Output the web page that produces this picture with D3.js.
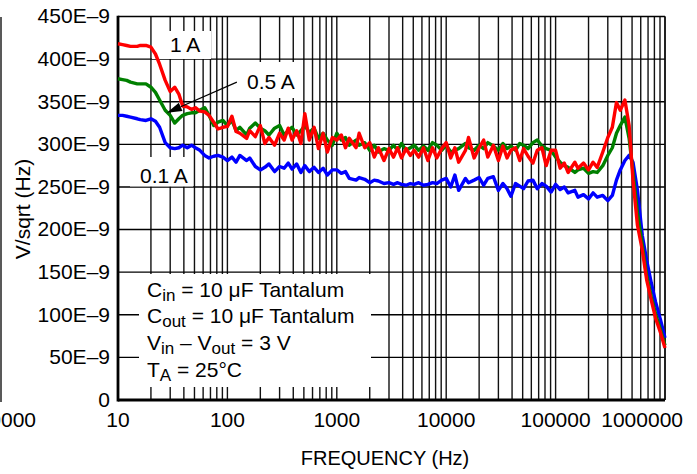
<!DOCTYPE html>
<html lang="en">
<head>
<meta charset="utf-8">
<title>Output noise density vs frequency</title>
<script src="https://cdnjs.cloudflare.com/ajax/libs/d3/7.8.5/d3.min.js"></script>
<style>
body { margin: 0; background: #fff; }
text { font-family: "Liberation Sans", Arial, Helvetica, sans-serif; fill: #000; }
</style>
</head>
<body>
<script>
// frequencies (Hz) the curves were read at
var freq = [
  10, 11, 12, 13, 15, 16, 18, 20, 22, 24, 27, 30, 33, 36, 39, 43, 47, 51, 56, 62, 68, 75, 82, 91,
  100, 110, 120, 130, 150, 160, 180, 200, 220, 240, 270, 300, 330, 360, 390, 430, 470, 510, 560, 620, 680, 750, 820, 910,
  1000, 1100, 1200, 1300, 1500, 1600, 1800, 2000, 2200, 2400, 2700, 3000, 3300, 3600, 3900, 4300, 4700, 5100, 5600, 6200, 6800, 7500, 8200, 9100,
  10000, 11000, 12000, 13000, 15000, 16000, 18000, 20000, 22000, 24000, 27000, 30000, 33000, 36000, 39000, 43000, 47000, 51000, 56000, 62000, 68000, 75000, 82000, 91000,
  100000, 110000, 120000, 130000, 150000, 160000, 180000, 200000, 220000, 240000, 270000, 300000, 330000, 360000, 390000, 430000, 470000, 510000, 560000, 620000, 680000, 750000, 820000, 910000,
  1000000
];

// noise in units of 1E-9 V/sqrt(Hz)
var noise1A = [
  418, 417, 416, 415, 415, 416, 416, 414, 406, 394, 375, 362, 367, 359, 345, 344, 341, 343, 339, 338, 334, 326, 318, 320,
  321, 333, 315, 313, 307, 316, 309, 322, 301, 308, 299, 313, 305, 319, 305, 316, 301, 336, 305, 320, 295, 313, 291, 308,
  305, 311, 296, 307, 296, 313, 296, 302, 285, 296, 281, 295, 285, 296, 284, 295, 287, 293, 285, 296, 281, 296, 284, 295,
  302, 284, 296, 279, 293, 308, 284, 296, 305, 285, 299, 281, 298, 284, 293, 296, 281, 295, 286, 278, 293, 296, 275, 293,
  293, 272, 278, 267, 279, 272, 278, 270, 279, 273, 291, 308, 320, 349, 340, 352, 322, 258, 205, 176, 141, 117, 96, 79,
  61
];
var noise05A = [
  377, 376, 375, 373, 371, 371, 371, 367, 361, 352, 340, 334, 325, 330, 334, 336, 337, 337, 340, 343, 334, 322, 326, 328,
  322, 328, 316, 320, 311, 319, 325, 319, 316, 311, 319, 322, 311, 316, 320, 311, 316, 322, 314, 319, 307, 313, 305, 299,
  313, 305, 308, 299, 305, 299, 302, 293, 299, 291, 295, 293, 299, 293, 301, 293, 296, 299, 293, 298, 293, 302, 299, 293,
  299, 291, 293, 295, 301, 296, 293, 299, 295, 302, 298, 293, 301, 295, 298, 293, 301, 299, 295, 302, 305, 298, 295, 293,
  285, 279, 275, 273, 267, 270, 272, 266, 268, 267, 275, 287, 296, 313, 322, 332, 307, 267, 220, 182, 146, 121, 101, 82,
  64
];
var noise01A = [
  334, 334, 333, 332, 330, 329, 328, 330, 327, 320, 302, 296, 295, 296, 299, 296, 299, 296, 293, 287, 284, 286, 287, 285,
  281, 285, 279, 287, 281, 284, 274, 270, 273, 277, 268, 274, 272, 278, 271, 277, 267, 275, 268, 273, 267, 272, 264, 270,
  270, 266, 268, 260, 258, 261, 259, 255, 258, 257, 254, 255, 253, 255, 253, 252, 254, 253, 255, 252, 253, 255, 254, 258,
  260, 250, 264, 246, 260, 255, 258, 261, 252, 260, 262, 246, 254, 248, 239, 254, 251, 248, 257, 258, 248, 254, 251, 244,
  253, 247, 250, 243, 246, 238, 241, 236, 243, 238, 240, 234, 240, 258, 270, 281, 287, 279, 246, 193, 164, 137, 115, 94,
  73
];

var yTicks = [0, 50, 100, 150, 200, 250, 300, 350, 400, 450];
var yTickLabels = ["0", "50E\u20139", "100E\u20139", "150E\u20139", "200E\u20139", "250E\u20139",
                   "300E\u20139", "350E\u20139", "400E\u20139", "450E\u20139"];
var xTicks = [10, 100, 1000, 10000, 100000, 1000000];
var xTickLabels = ["10", "100", "1000", "10000", "100000", "1000000"];

var w = 697, h = 474;
var pL = 118, pR = 665, pT = 16.5, pB = 400;

var svg = d3.select("body").append("svg")
  .attr("width", w).attr("height", h);

var x = d3.scaleLog().domain([10, 1000000]).range([pL, pR]);
var y = d3.scaleLinear().domain([0, 450]).range([pB, pT]);

// grid, log minor lines
svg.append("g").selectAll("line")
  .data(x.ticks())
  .enter().append("line")
  .attr("x1", function(d) { return x(d); })
  .attr("x2", function(d) { return x(d); })
  .attr("y1", pT).attr("y2", pB)
  .attr("stroke", "#111").attr("stroke-width", 1.4);

svg.append("g").selectAll("line")
  .data(yTicks)
  .enter().append("line")
  .attr("x1", pL).attr("x2", pR)
  .attr("y1", function(d) { return y(d); })
  .attr("y2", function(d) { return y(d); })
  .attr("stroke", "#000").attr("stroke-width", 1.4);

// white boxes behind the notes
function box(x0, y0, x1, y1) {
  svg.append("rect").attr("x", x0).attr("y", y0)
    .attr("width", x1 - x0).attr("height", y1 - y0).attr("fill", "#fff");
}
box(139, 274, 371, 387);
box(152, 31, 211, 59);
box(237, 62, 301, 98);
box(130, 157, 193, 186.5);

// frame
svg.append("line").attr("x1", pR).attr("x2", pR).attr("y1", pT).attr("y2", pB)
  .attr("stroke", "#111").attr("stroke-width", 1.5);
svg.append("line").attr("x1", pL).attr("x2", pL).attr("y1", pT - 0.7).attr("y2", pB + 1.5)
  .attr("stroke", "#000").attr("stroke-width", 2.8);
svg.append("line").attr("x1", pL).attr("x2", pR).attr("y1", pB).attr("y2", pB)
  .attr("stroke", "#000").attr("stroke-width", 2.8);

// curves
var line = d3.line()
  .x(function(d) { return x(d[0]); })
  .y(function(d) { return y(d[1]); });

var series = [
  { vals: noise01A, color: "#0000ff" },
  { vals: noise05A, color: "#008000" },
  { vals: noise1A, color: "#ff0000" }
];
series.forEach(function(s) {
  svg.append("path")
    .datum(d3.zip(freq, s.vals))
    .attr("d", line)
    .attr("fill", "none")
    .attr("stroke", s.color)
    .attr("stroke-width", 3.4)
    .attr("stroke-linejoin", "round");
});

// tick labels
svg.append("g").selectAll("text")
  .data(yTicks)
  .enter().append("text")
  .attr("x", 110)
  .attr("y", function(d) { return y(d); })
  .attr("dy", "0.33em")
  .attr("text-anchor", "end")
  .attr("font-size", "21px")
  .text(function(d, i) { return yTickLabels[i]; });

svg.append("g").selectAll("text")
  .data(xTicks)
  .enter().append("text")
  .attr("x", function(d, i) { return i === xTicks.length - 1 ? x(d) + 18 : x(d); })
  .attr("y", 427)
  .attr("text-anchor", function(d, i) { return i === xTicks.length - 1 ? "end" : "middle"; })
  .attr("font-size", "21px")
  .text(function(d, i) { return xTickLabels[i]; });

// axis titles
svg.append("text")
  .attr("x", 385).attr("y", 465)
  .attr("text-anchor", "middle")
  .attr("font-size", "20px")
  .text("FREQUENCY (Hz)");

svg.append("text")
  .attr("transform", "translate(30,209) rotate(-90)")
  .attr("text-anchor", "middle")
  .attr("font-size", "21px")
  .text("V/sqrt (Hz)");

// series labels
svg.append("text").attr("x", 170).attr("y", 52).attr("font-size", "21px").text("1 A");
svg.append("text").attr("x", 247).attr("y", 89).attr("font-size", "21px").text("0.5 A");
svg.append("text").attr("x", 140).attr("y", 183).attr("font-size", "21px").text("0.1 A");

// arrow to the 0.5 A curve
var ax0 = x(122), ay0 = y(373), ax1 = x(28), ay1 = y(337);
var ang = Math.atan2(ay1 - ay0, ax1 - ax0);
var hl = 15, hw = 4.5;
var bx = ax1 - hl * Math.cos(ang), by = ay1 - hl * Math.sin(ang);
svg.append("line").attr("x1", ax0).attr("y1", ay0).attr("x2", bx).attr("y2", by)
  .attr("stroke", "#000").attr("stroke-width", 1.2);
svg.append("path")
  .attr("d", "M" + ax1 + "," + ay1 +
    "L" + (bx + hw * Math.sin(ang)) + "," + (by - hw * Math.cos(ang)) +
    "L" + (bx - hw * Math.sin(ang)) + "," + (by + hw * Math.cos(ang)) + "Z")
  .attr("fill", "#000");

// test conditions note
var note = svg.append("g").attr("font-size", "21px");
function noteLine(yy, parts) {
  var t = note.append("text").attr("x", 147).attr("y", yy);
  parts.forEach(function(p) {
    var ts = t.append("tspan").text(p[0]);
    if (p[1] === "sub") ts.attr("font-size", "17px").attr("dy", 4);
    if (p[1] === "up") ts.attr("dy", -4);
  });
}
noteLine(297, [["C"], ["in", "sub"], [" = 10 \u03bcF Tantalum", "up"]]);
noteLine(323, [["C"], ["out", "sub"], [" = 10 \u03bcF Tantalum", "up"]]);
noteLine(350, [["V"], ["in", "sub"], [" \u2013 V", "up"], ["out", "sub"], [" = 3 V", "up"]]);
noteLine(377, [["T"], ["A", "sub"], [" = 25\u00b0C", "up"]]);

// edge of the neighbouring graph, cut off at the left
svg.append("line").attr("x1", 1).attr("x2", 1).attr("y1", 17).attr("y2", 402)
  .attr("stroke", "#222").attr("stroke-width", 1.5);
svg.append("text").attr("x", 36).attr("y", 427).attr("text-anchor", "end")
  .attr("font-size", "21px").text("1000000");
</script>
</body>
</html>
